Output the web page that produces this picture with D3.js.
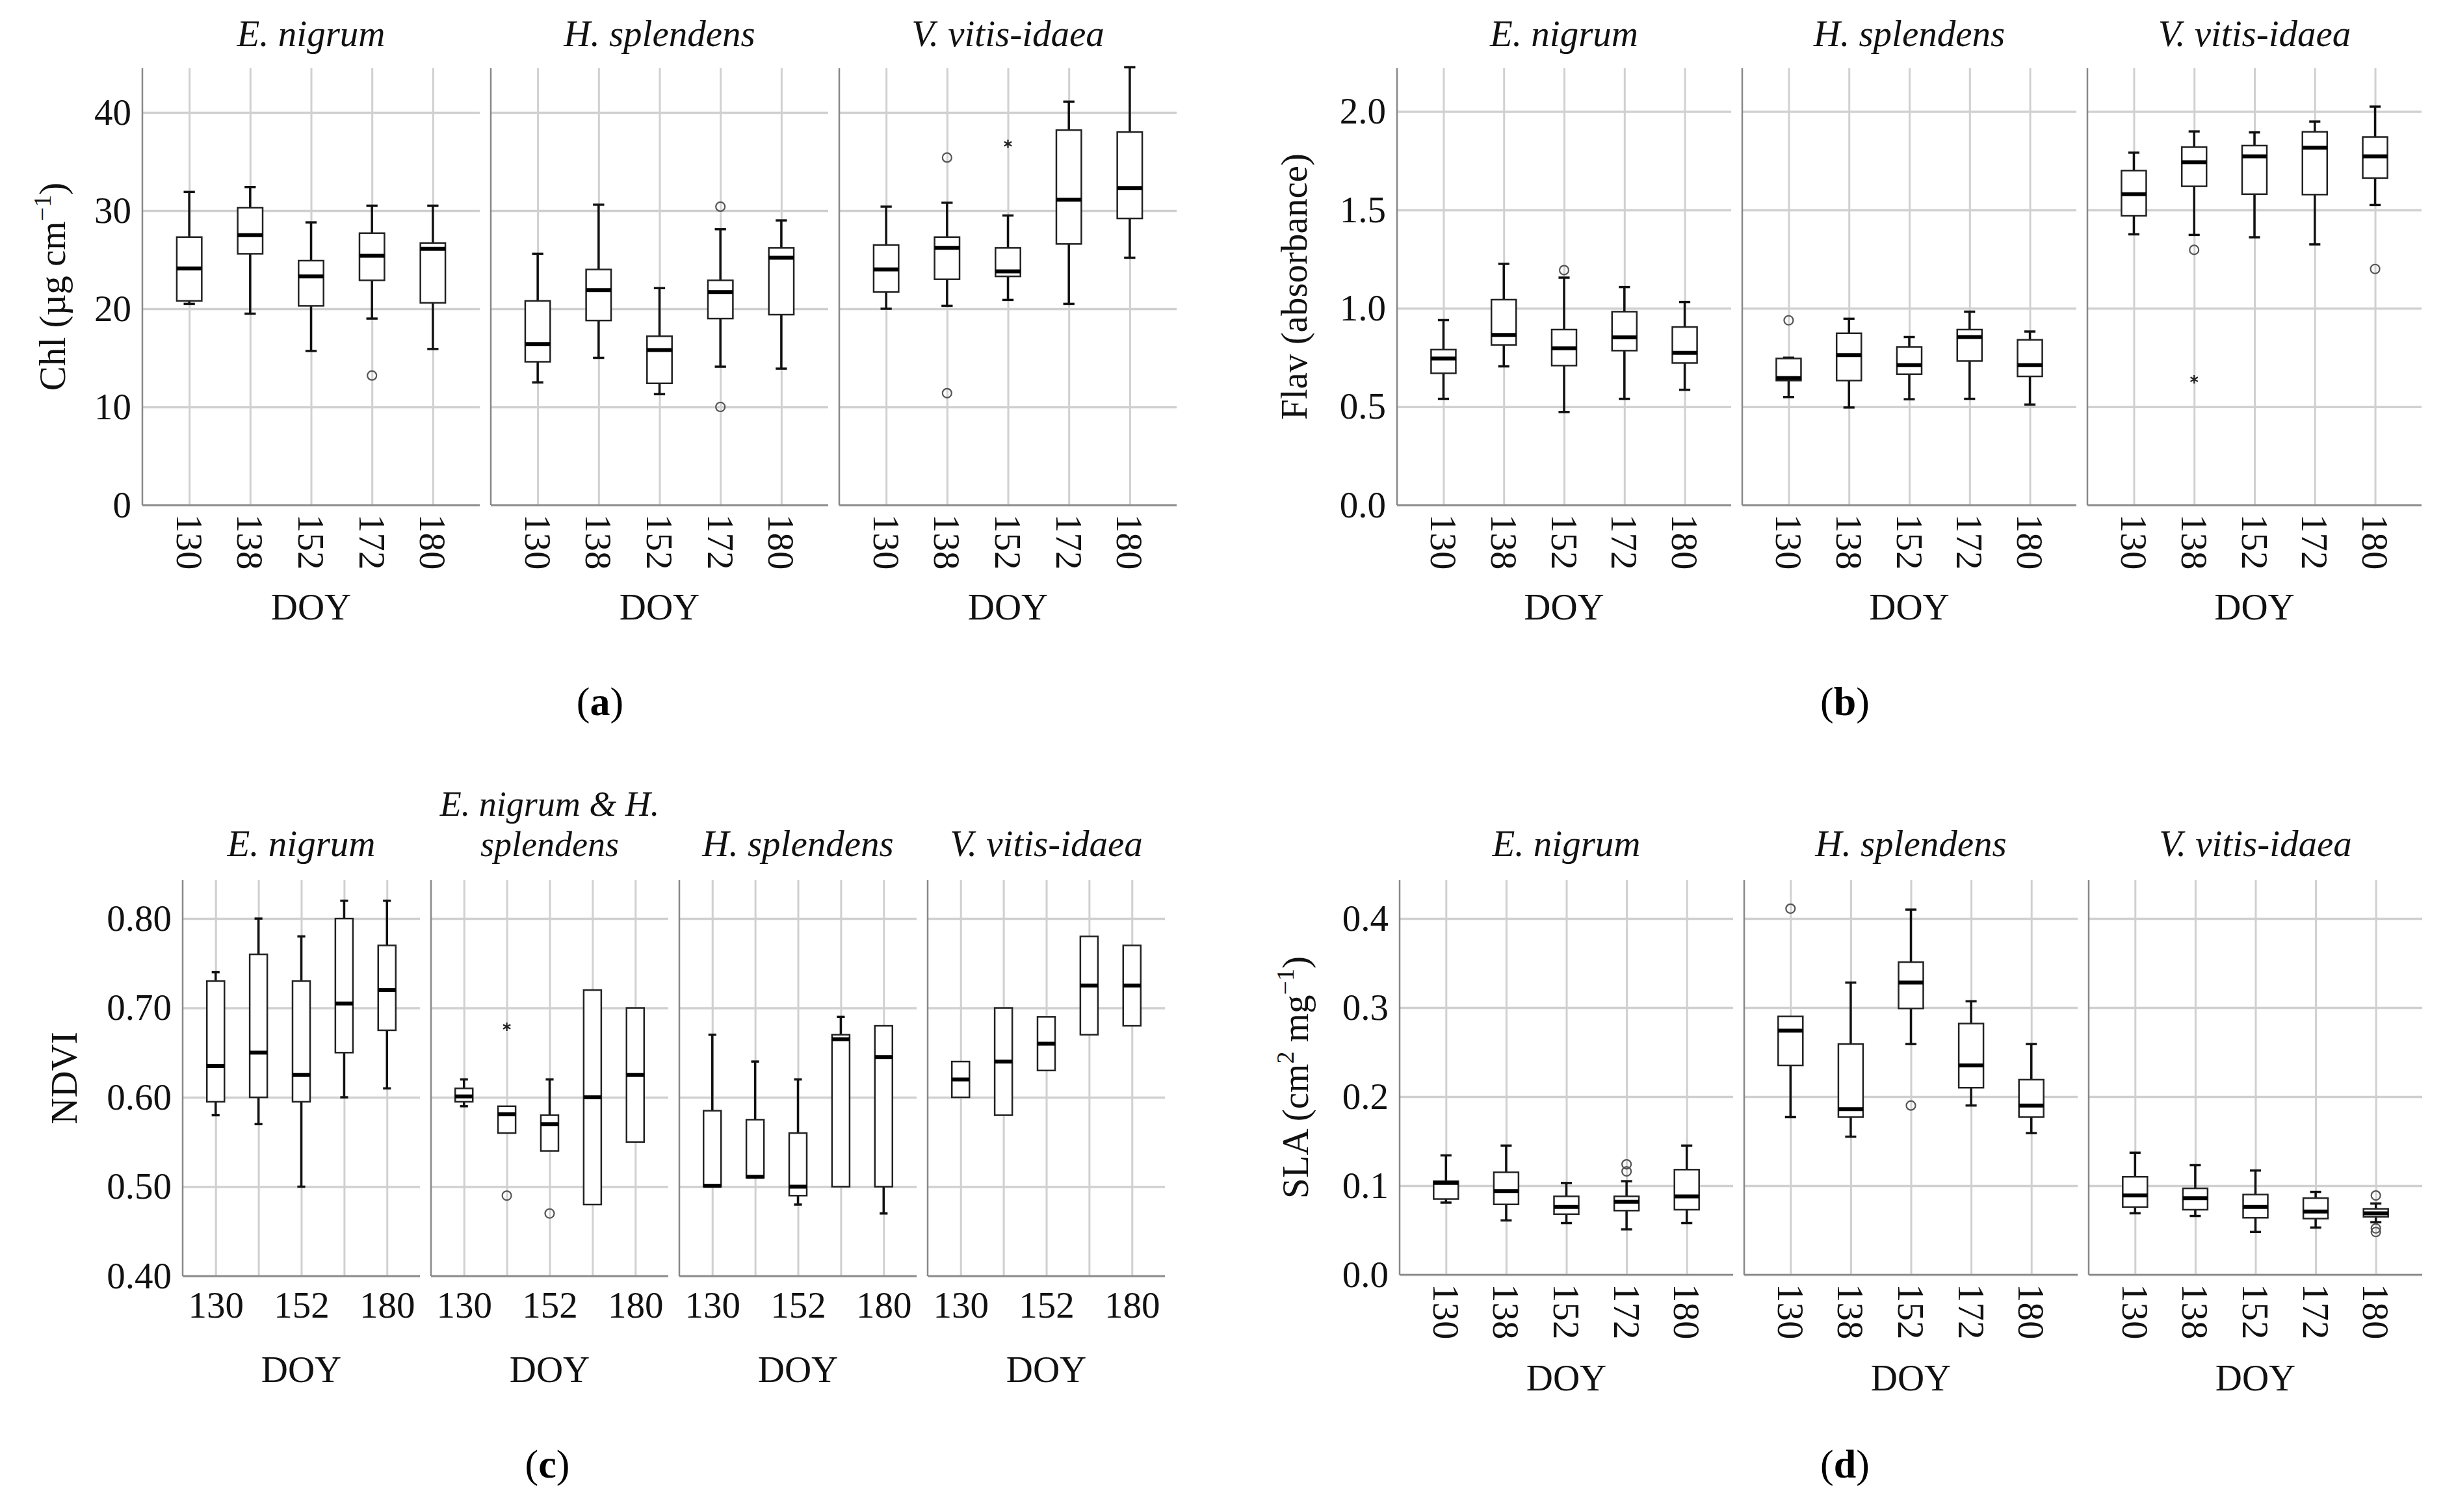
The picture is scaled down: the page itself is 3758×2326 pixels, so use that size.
<!DOCTYPE html>
<html>
<head>
<meta charset="utf-8">
<script src="https://cdn.jsdelivr.net/npm/d3@7"></script>
<style>
  body { margin: 0; background: #fff; }
  svg { display: block; }
</style>
</head>
<body>
<script>
// Box plots of leaf traits by day of year (DOY)

var doyLabels = ["130", "138", "152", "172", "180"];
var species = ["E. nigrum", "H. splendens", "V. vitis-idaea"];

// each row: [lower whisker, Q1, median, Q3, upper whisker]
// (a) Chl
var chlEnigrum = [[20.5, 20.8, 24.1, 27.3, 31.9], [19.5, 25.6, 27.5, 30.3, 32.4], [15.7, 20.3, 23.3, 24.9, 28.8], [19.0, 22.9, 25.4, 27.7, 30.5], [15.9, 20.6, 26.1, 26.7, 30.5]];
var chlHsplendens = [[12.5, 14.6, 16.4, 20.8, 25.6], [15.0, 18.8, 21.9, 24.0, 30.6], [11.3, 12.4, 15.8, 17.2, 22.1], [14.1, 19.0, 21.7, 22.9, 28.1], [13.9, 19.4, 25.2, 26.2, 29.0]];
var chlVvitis = [[20.0, 21.7, 24.0, 26.5, 30.4], [20.3, 23.0, 26.2, 27.3, 30.8], [20.9, 23.3, 23.8, 26.2, 29.5], [20.5, 26.6, 31.1, 38.2, 41.1], [25.2, 29.2, 32.3, 38.0, 44.6]];
// outliers: [facet, doy, value, marker]
var chlOutliers = [[0, "172", 13.2, "o"], [1, "172", 30.4, "o"], [1, "172", 10.0, "o"], [2, "138", 35.4, "o"], [2, "138", 11.4, "o"], [2, "152", 36.8, "*"]];
var chlTicks = [0, 10, 20, 30, 40];

// (b) Flav
var flavEnigrum = [[0.54, 0.67, 0.745, 0.79, 0.94], [0.705, 0.814, 0.865, 1.044, 1.226], [0.473, 0.709, 0.797, 0.892, 1.156], [0.54, 0.785, 0.852, 0.983, 1.108], [0.586, 0.722, 0.774, 0.905, 1.032]];
var flavHsplendens = [[0.549, 0.633, 0.646, 0.745, 0.749], [0.496, 0.633, 0.762, 0.873, 0.947], [0.538, 0.665, 0.711, 0.804, 0.854], [0.54, 0.732, 0.854, 0.892, 0.983], [0.511, 0.654, 0.711, 0.84, 0.882]];
var flavVvitis = [[1.376, 1.47, 1.58, 1.70, 1.791], [1.373, 1.62, 1.743, 1.819, 1.899], [1.361, 1.58, 1.772, 1.827, 1.894], [1.325, 1.578, 1.816, 1.897, 1.949], [1.525, 1.662, 1.772, 1.871, 2.025]];
var flavOutliers = [[0, "152", 1.194, "o"], [1, "130", 0.939, "o"], [2, "138", 1.297, "o"], [2, "138", 0.639, "*"], [2, "180", 1.20, "o"]];
var flavTicks = [0, 0.5, 1.0, 1.5, 2.0];

// (c) NDVI
var ndviSpecies = ["E. nigrum", "E. nigrum & H. splendens", "H. splendens", "V. vitis-idaea"];
var ndviEnigrum = [[0.58, 0.595, 0.635, 0.73, 0.74], [0.57, 0.60, 0.65, 0.76, 0.80], [0.50, 0.595, 0.625, 0.73, 0.78], [0.60, 0.65, 0.705, 0.80, 0.82], [0.61, 0.675, 0.72, 0.77, 0.82]];
var ndviMixed = [[0.59, 0.595, 0.601, 0.61, 0.62], [0.56, 0.56, 0.581, 0.59, 0.59], [0.54, 0.54, 0.57, 0.58, 0.62], [0.48, 0.48, 0.60, 0.72, 0.72], [0.55, 0.55, 0.625, 0.70, 0.70]];
var ndviHsplendens = [[0.50, 0.50, 0.501, 0.585, 0.67], [0.51, 0.51, 0.511, 0.575, 0.64], [0.48, 0.49, 0.50, 0.56, 0.62], [0.50, 0.50, 0.665, 0.67, 0.69], [0.47, 0.50, 0.645, 0.68, 0.68]];
var ndviVvitis = [[0.60, 0.60, 0.62, 0.64, 0.64], [0.58, 0.58, 0.64, 0.70, 0.70], [0.63, 0.63, 0.66, 0.69, 0.69], [0.67, 0.67, 0.725, 0.78, 0.78], [0.68, 0.68, 0.725, 0.77, 0.77]];
var ndviOutliers = [[1, "138", 0.679, "*"], [1, "138", 0.49, "o"], [1, "152", 0.47, "o"]];
var ndviTicks = [0.4, 0.5, 0.6, 0.7, 0.8];
var ndviShown = ["130", "152", "180"];

// (d) SLA
var slaEnigrum = [[0.081, 0.085, 0.103, 0.105, 0.134], [0.061, 0.079, 0.094, 0.115, 0.145], [0.058, 0.068, 0.076, 0.088, 0.103], [0.051, 0.072, 0.082, 0.088, 0.105], [0.058, 0.073, 0.088, 0.118, 0.145]];
var slaHsplendens = [[0.177, 0.235, 0.274, 0.29, 0.29], [0.155, 0.177, 0.186, 0.259, 0.328], [0.259, 0.299, 0.328, 0.351, 0.41], [0.19, 0.21, 0.235, 0.282, 0.307], [0.159, 0.177, 0.19, 0.219, 0.259]];
var slaVvitis = [[0.069, 0.076, 0.089, 0.11, 0.137], [0.066, 0.073, 0.086, 0.097, 0.123], [0.048, 0.064, 0.076, 0.09, 0.117], [0.053, 0.063, 0.071, 0.086, 0.093], [0.059, 0.065, 0.069, 0.074, 0.08]];
var slaOutliers = [[0, "172", 0.124, "o"], [0, "172", 0.116, "o"], [1, "130", 0.411, "o"], [1, "152", 0.19, "o"], [2, "180", 0.089, "o"], [2, "180", 0.052, "o"], [2, "180", 0.048, "o"]];
var slaTicks = [0, 0.1, 0.2, 0.3, 0.4];

var W = 3758, H = 2326;
var serif = "'Palatino Linotype', 'Book Antiqua', Palatino, 'Liberation Serif', serif";
var fontSize = 57;
var gridColor = "#d0d0d0";
var axisColor = "#888";

var $svg = d3.select("body").append("svg")
    .attr("width", W)
    .attr("height", H)
    .attr("font-family", serif);

$svg.append("rect").attr("width", W).attr("height", H).attr("fill", "#fff");

// y label with superscripts: parts = [[text, isSup], ...]
function yLabel($g, parts, x, y) {
    var $t = $g.append("text")
        .attr("transform", `translate(${x} ${y}) rotate(-90)`)
        .attr("text-anchor", "middle")
        .attr("font-family", serif)
        .attr("font-size", fontSize)
        .attr("fill", "#111");
    var up = false;
    parts.forEach(function(p) {
        var $s = $t.append("tspan").text(p[0]);
        if (p[1] && !up) { $s.attr("font-size", 38).attr("dy", -22); up = true; }
        else if (p[1]) { $s.attr("font-size", 38); }
        else if (up) { $s.attr("dy", 22); up = false; }
    });
}

function drawPanel(o) {
    var $p = $svg.append("g");
    var y = d3.scaleLinear().domain(o.domain).range([o.bottom, o.top]);

    o.facets.forEach(function(stats, fi) {
        var left = o.x0 + fi * (o.facetW + o.gap);
        var right = left + o.facetW;
        var x = d3.scalePoint().domain(doyLabels).range([left, right]).padding(0.77);
        var boxW = x.step() * 0.41;
        var capW = boxW * 0.45;
        var $f = $p.append("g");

        // horizontal grid
        var $hg = $f.append("g").attr("transform", `translate(${left},0)`)
            .call(d3.axisLeft(y).tickValues(o.ticks).tickSize(-o.facetW).tickFormat(""));
        $hg.select(".domain").remove();
        $hg.selectAll("line").attr("stroke", gridColor).attr("stroke-width", 3.5);

        // vertical grid
        var $vg = $f.append("g").attr("transform", `translate(0,${o.bottom})`)
            .call(d3.axisBottom(x).tickSize(-(o.bottom - o.top)).tickFormat(""));
        $vg.select(".domain").remove();
        $vg.selectAll("line").attr("stroke", gridColor).attr("stroke-width", 3);

        // axis lines (left and bottom only)
        $f.append("line").attr("x1", left).attr("x2", left).attr("y1", o.top).attr("y2", o.bottom)
            .attr("stroke", axisColor).attr("stroke-width", 2.5);
        $f.append("line").attr("x1", left).attr("x2", right).attr("y1", o.bottom).attr("y2", o.bottom)
            .attr("stroke", axisColor).attr("stroke-width", 2.5);

        // y tick labels on first facet
        if (fi === 0) {
            var $ya = $f.append("g").attr("transform", `translate(${left},0)`)
                .call(d3.axisLeft(y).tickValues(o.ticks).tickSize(0).tickPadding(17).tickFormat(o.fmt));
            $ya.select(".domain").remove();
            $ya.attr("font-family", serif).attr("font-size", fontSize);
            $ya.selectAll("text").attr("font-family", serif).attr("font-size", fontSize).attr("fill", "#111");
        }

        // x tick labels
        var $xa = $f.append("g").attr("transform", `translate(0,${o.bottom})`)
            .call(d3.axisBottom(x).tickSize(0).tickFormat(function(d) {
                return (!o.shown || o.shown.indexOf(d) >= 0) ? d : "";
            }));
        $xa.select(".domain").remove();
        $xa.attr("font-family", serif).attr("font-size", fontSize);
        var $xt = $xa.selectAll("text").attr("font-family", serif).attr("font-size", fontSize).attr("fill", "#111");
        if (o.rotate) {
            $xt.attr("transform", "rotate(90)").attr("x", 14).attr("y", 0)
                .attr("dy", "0.35em").attr("text-anchor", "start");
        } else {
            $xt.attr("y", 24).attr("dy", "0.71em");
        }

        // facet title (two lines where the name is long)
        var cx = (left + right) / 2;
        if (o.titleLines && o.titleLines[fi]) {
            o.titleLines[fi].forEach(function(line, li, arr) {
                $f.append("text").attr("x", cx).attr("y", o.titleY - (arr.length - 1 - li) * 62)
                    .attr("text-anchor", "middle").attr("font-size", 54)
                    .attr("font-style", "italic").attr("fill", "#111")
                    .text(line);
            });
        } else {
            $f.append("text").attr("x", cx).attr("y", o.titleY)
                .attr("text-anchor", "middle").attr("font-size", fontSize)
                .attr("font-style", "italic").attr("fill", "#111")
                .text(o.titles[fi]);
        }

        // DOY label
        $f.append("text").attr("x", cx).attr("y", o.doyY)
            .attr("text-anchor", "middle").attr("font-size", fontSize).attr("fill", "#111")
            .text("DOY");

        // boxes
        var $b = $f.selectAll(".box").data(stats).enter().append("g")
            .attr("class", "box")
            .attr("transform", (d, i) => `translate(${x(doyLabels[i])},0)`);

        $b.filter(d => d[4] > d[3]).append("line")
            .attr("y1", d => y(d[3])).attr("y2", d => y(d[4]))
            .attr("stroke", "#111").attr("stroke-width", 3.5);
        $b.filter(d => d[4] > d[3]).append("line")
            .attr("x1", -capW / 2).attr("x2", capW / 2)
            .attr("y1", d => y(d[4])).attr("y2", d => y(d[4]))
            .attr("stroke", "#111").attr("stroke-width", 3.5);
        $b.filter(d => d[0] < d[1]).append("line")
            .attr("y1", d => y(d[1])).attr("y2", d => y(d[0]))
            .attr("stroke", "#111").attr("stroke-width", 3.5);
        $b.filter(d => d[0] < d[1]).append("line")
            .attr("x1", -capW / 2).attr("x2", capW / 2)
            .attr("y1", d => y(d[0])).attr("y2", d => y(d[0]))
            .attr("stroke", "#111").attr("stroke-width", 3.5);
        $b.append("rect")
            .attr("x", -boxW / 2).attr("width", boxW)
            .attr("y", d => y(d[3])).attr("height", d => y(d[1]) - y(d[3]))
            .attr("fill", "#fff").attr("stroke", "#222").attr("stroke-width", 2.5);
        $b.append("line")
            .attr("x1", -boxW / 2).attr("x2", boxW / 2)
            .attr("y1", d => y(d[2])).attr("y2", d => y(d[2]))
            .attr("stroke", "#000").attr("stroke-width", 6);

        // outliers
        var outs = o.outliers.filter(d => d[0] === fi);
        $f.selectAll(".out").data(outs.filter(d => d[3] === "o")).enter().append("circle")
            .attr("cx", d => x(d[1])).attr("cy", d => y(d[2])).attr("r", 7)
            .attr("fill", "none").attr("stroke", "#555").attr("stroke-width", 2.2);
        $f.selectAll(".star").data(outs.filter(d => d[3] === "*")).enter().append("path")
            .attr("transform", d => `translate(${x(d[1])},${y(d[2])})`)
            .attr("d", d3.symbol().type(d3.symbolAsterisk || d3.symbolCross).size(120))
            .attr("fill", "none").attr("stroke", "#222").attr("stroke-width", 2.2);
    });

    yLabel($p, o.yLabel, o.yLabelX, (o.top + o.bottom) / 2);

    // panel letter
    var $l = $p.append("text").attr("x", o.labelX).attr("y", o.labelY)
        .attr("text-anchor", "middle").attr("font-size", 62).attr("fill", "#000");
    $l.append("tspan").text("(");
    $l.append("tspan").attr("font-weight", "bold").text(o.label);
    $l.append("tspan").text(")");
}

drawPanel({
    facets: [chlEnigrum, chlHsplendens, chlVvitis], titles: species, outliers: chlOutliers,
    x0: 219, facetW: 519, gap: 17, top: 105, bottom: 777,
    domain: [0, 44.5], ticks: chlTicks, fmt: d3.format("d"), rotate: true,
    titleY: 71, doyY: 953, yLabel: [["Chl (µg cm", false], ["−1", true], [")", false]], yLabelX: 100,
    label: "a", labelX: 923, labelY: 1100
});

drawPanel({
    facets: [flavEnigrum, flavHsplendens, flavVvitis], titles: species, outliers: flavOutliers,
    x0: 2149, facetW: 514, gap: 17, top: 105, bottom: 777,
    domain: [0, 2.22], ticks: flavTicks, fmt: d3.format(".1f"), rotate: true,
    titleY: 71, doyY: 953, yLabel: [["Flav (absorbance)", false]], yLabelX: 2010,
    label: "b", labelX: 2838, labelY: 1100
});

drawPanel({
    facets: [ndviEnigrum, ndviMixed, ndviHsplendens, ndviVvitis], titles: ndviSpecies, outliers: ndviOutliers,
    titleLines: [null, ["E. nigrum & H.", "splendens"], null, null],
    x0: 281, facetW: 365, gap: 17, top: 1354, bottom: 1963,
    domain: [0.4, 0.843], ticks: ndviTicks, fmt: d3.format(".2f"), rotate: false, shown: ndviShown,
    titleY: 1317, doyY: 2126, yLabel: [["NDVI", false]], yLabelX: 118,
    label: "c", labelX: 842, labelY: 2273
});

drawPanel({
    facets: [slaEnigrum, slaHsplendens, slaVvitis], titles: species, outliers: slaOutliers,
    x0: 2153, facetW: 513, gap: 17, top: 1354, bottom: 1961,
    domain: [0, 0.443], ticks: slaTicks, fmt: d3.format(".1f"), rotate: true,
    titleY: 1317, doyY: 2139,
    yLabel: [["SLA (cm", false], ["2", true], [" mg", false], ["−1", true], [")", false]], yLabelX: 2012,
    label: "d", labelX: 2838, labelY: 2273
});
</script>
</body>
</html>
